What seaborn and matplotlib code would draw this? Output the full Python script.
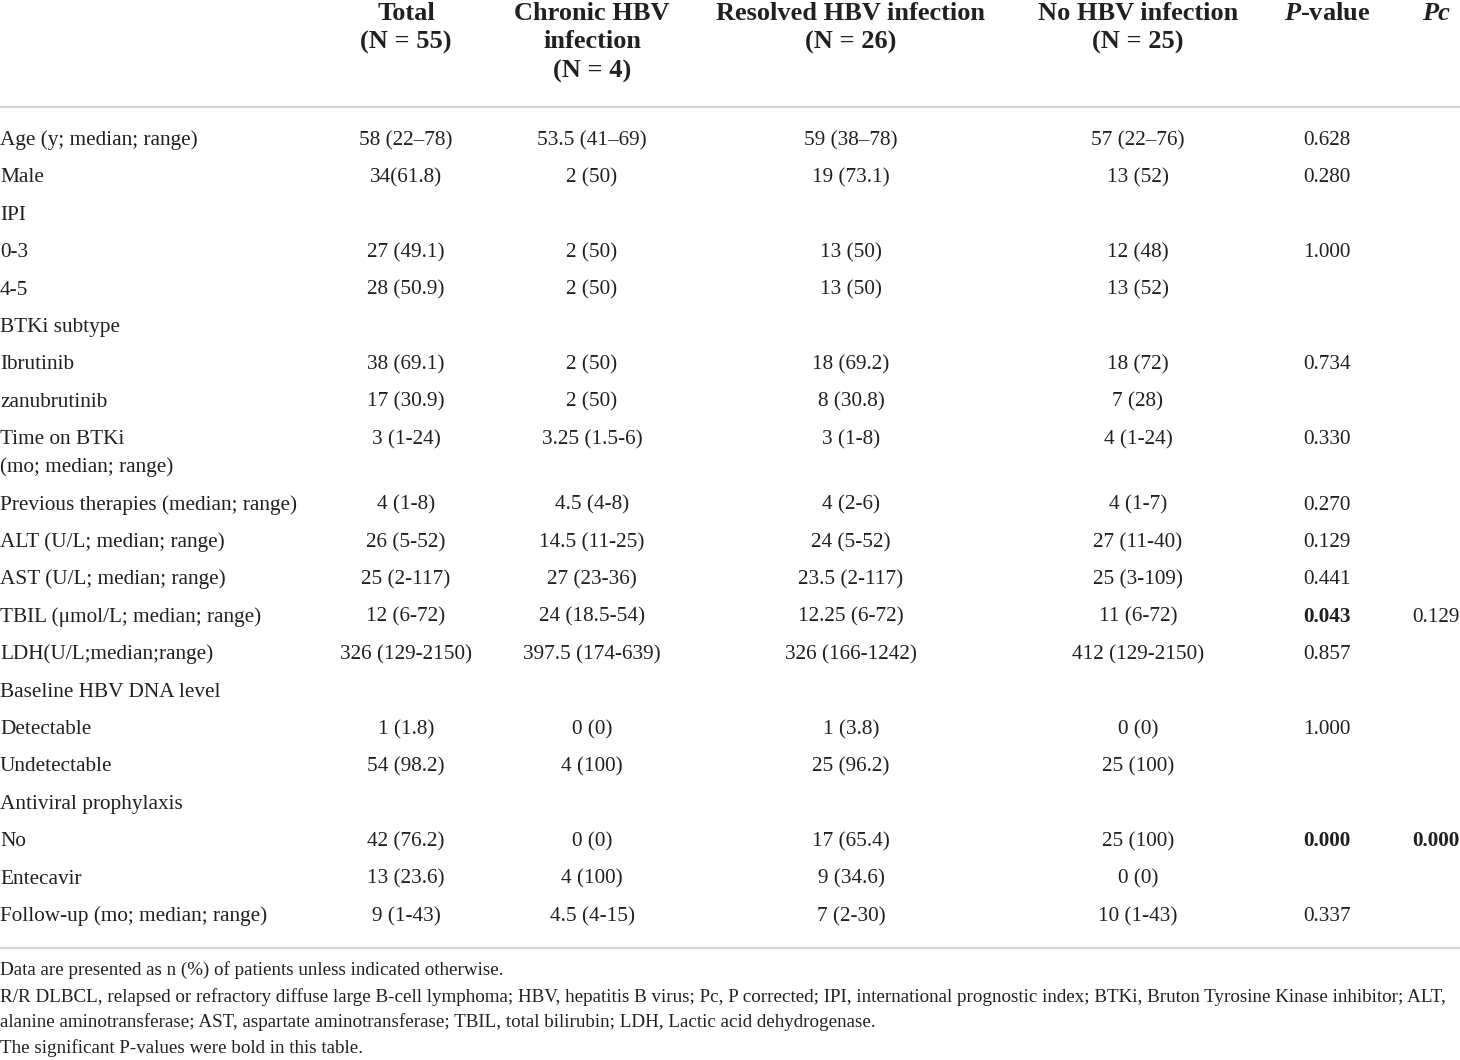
import matplotlib
matplotlib.use('Agg')

import seaborn as sns
import matplotlib.pyplot as plt

# column headers (one list per header line)
header_lines = [
    ['Total', 'Chronic HBV', 'Resolved HBV infection', 'No HBV infection', 'P-value', 'Pc'],
    ['(N = 55)', 'infection', '(N = 26)', '(N = 25)', '', ''],
    ['', '(N = 4)', '', '', '', ''],
]

row_labels = [
    'Age (y; median; range)', 'Male', 'IPI', '0-3', '4-5', 'BTKi subtype',
    'Ibrutinib', 'zanubrutinib', 'Time on BTKi\n(mo; median; range)',
    'Previous therapies (median; range)', 'ALT (U/L; median; range)',
    'AST (U/L; median; range)', 'TBIL (\u03bcmol/L; median; range)',
    'LDH(U/L;median;range)', 'Baseline HBV DNA level', 'Detectable',
    'Undetectable', 'Antiviral prophylaxis', 'No', 'Entecavir',
    'Follow-up (mo; median; range)',
]
total = ['58 (22\u201378)', '34(61.8)', '', '27 (49.1)', '28 (50.9)', '',
         '38 (69.1)', '17 (30.9)', '3 (1-24)', '4 (1-8)', '26 (5-52)',
         '25 (2-117)', '12 (6-72)', '326 (129-2150)', '', '1 (1.8)',
         '54 (98.2)', '', '42 (76.2)', '13 (23.6)', '9 (1-43)']
chronic = ['53.5 (41\u201369)', '2 (50)', '', '2 (50)', '2 (50)', '',
           '2 (50)', '2 (50)', '3.25 (1.5-6)', '4.5 (4-8)', '14.5 (11-25)',
           '27 (23-36)', '24 (18.5-54)', '397.5 (174-639)', '', '0 (0)',
           '4 (100)', '', '0 (0)', '4 (100)', '4.5 (4-15)']
resolved = ['59 (38\u201378)', '19 (73.1)', '', '13 (50)', '13 (50)', '',
            '18 (69.2)', '8 (30.8)', '3 (1-8)', '4 (2-6)', '24 (5-52)',
            '23.5 (2-117)', '12.25 (6-72)', '326 (166-1242)', '', '1 (3.8)',
            '25 (96.2)', '', '17 (65.4)', '9 (34.6)', '7 (2-30)']
no_hbv = ['57 (22\u201376)', '13 (52)', '', '12 (48)', '13 (52)', '',
          '18 (72)', '7 (28)', '4 (1-24)', '4 (1-7)', '27 (11-40)',
          '25 (3-109)', '11 (6-72)', '412 (129-2150)', '', '0 (0)',
          '25 (100)', '', '25 (100)', '0 (0)', '10 (1-43)']
p_values = ['0.628', '0.280', '', '1.000', '', '', '0.734', '', '0.330', '0.270',
            '0.129', '0.441', '0.043', '0.857', '', '1.000', '', '', '0.000', '', '0.337']
pc_values = [''] * 12 + ['0.129'] + [''] * 5 + ['0.000'] + [''] * 2
significant = ['0.043', '0.000']
pc_bold = [False] * 18 + [True] + [False] * 2

footnotes = [
    'Data are presented as n (%) of patients unless indicated otherwise.',
    'R/R DLBCL, relapsed or refractory diffuse large B-cell lymphoma; HBV, hepatitis B virus; Pc, P corrected; '
    'IPI, international prognostic index; BTKi, Bruton Tyrosine Kinase inhibitor; ALT,',
    'alanine aminotransferase; AST, aspartate aminotransferase; TBIL, total bilirubin; LDH, Lactic acid dehydrogenase.',
    'The significant P-values were bold in this table.',
]

sns.set_theme(style='white')
plt.rcParams['font.family'] = ['Liberation Serif', 'DejaVu Serif']
plt.rcParams['mathtext.fontset'] = 'custom'
plt.rcParams['mathtext.it'] = 'Liberation Serif:italic:bold'
plt.rcParams['mathtext.rm'] = 'Liberation Serif:bold'

W, H = 1460, 1060
fig = plt.figure(figsize=(W / 100, H / 100), dpi=100)
ax = fig.add_axes([0, 0, 1, 1])
ax.set_xlim(0, W)
ax.set_ylim(H, 0)
ax.axis('off')

ink = '#231f20'
rule = '#d4d4d4'
col_x = [406, 592, 851, 1138, 1327, 1436]
head_y = [13, 42, 71]
hfs = 19

for line, y in zip(header_lines, head_y):
    for x, txt in zip(col_x, line):
        if not txt:
            continue
        if txt == 'P-value':
            ax.text(x, y, r'$\it{P}$' + '-value', ha='center', va='center',
                    fontsize=hfs, fontweight='bold', color=ink)
        elif txt == 'Pc':
            ax.text(x, y, txt, ha='center', va='center', fontsize=hfs,
                    fontweight='bold', fontstyle='italic', color=ink)
        else:
            ax.text(x, y, txt, ha='center', va='center', fontsize=hfs,
                    fontweight='bold', color=ink)

ax.axhline(107, color=rule, lw=1.6)
ax.axhline(948, color=rule, lw=1.6)

fs = 15.3
base = 6  # baseline offset below row centre
y = 139
for i, label in enumerate(row_labels):
    parts = label.split('\n')
    for k, part in enumerate(parts):
        ax.text(0, y + 28 * k + base, part, ha='left', va='baseline',
                fontsize=fs, color=ink)
    cells = [total[i], chronic[i], resolved[i], no_hbv[i], p_values[i], pc_values[i]]
    for j, (x, txt) in enumerate(zip(col_x, cells)):
        if not txt:
            continue
        bold = (j == 4 and txt in significant) or (j == 5 and pc_bold[i])
        ax.text(x, y + base, txt, ha='center', va='baseline', fontsize=fs,
                color=ink, fontweight='bold' if bold else 'normal')
    y += 37.4 + 28 * (len(parts) - 1)

for txt, fy in zip(footnotes, [970, 997, 1022, 1048]):
    ax.text(0, fy + 5, txt, ha='left', va='baseline', fontsize=13.7, color=ink)

plt.savefig('out.png', dpi=100)
